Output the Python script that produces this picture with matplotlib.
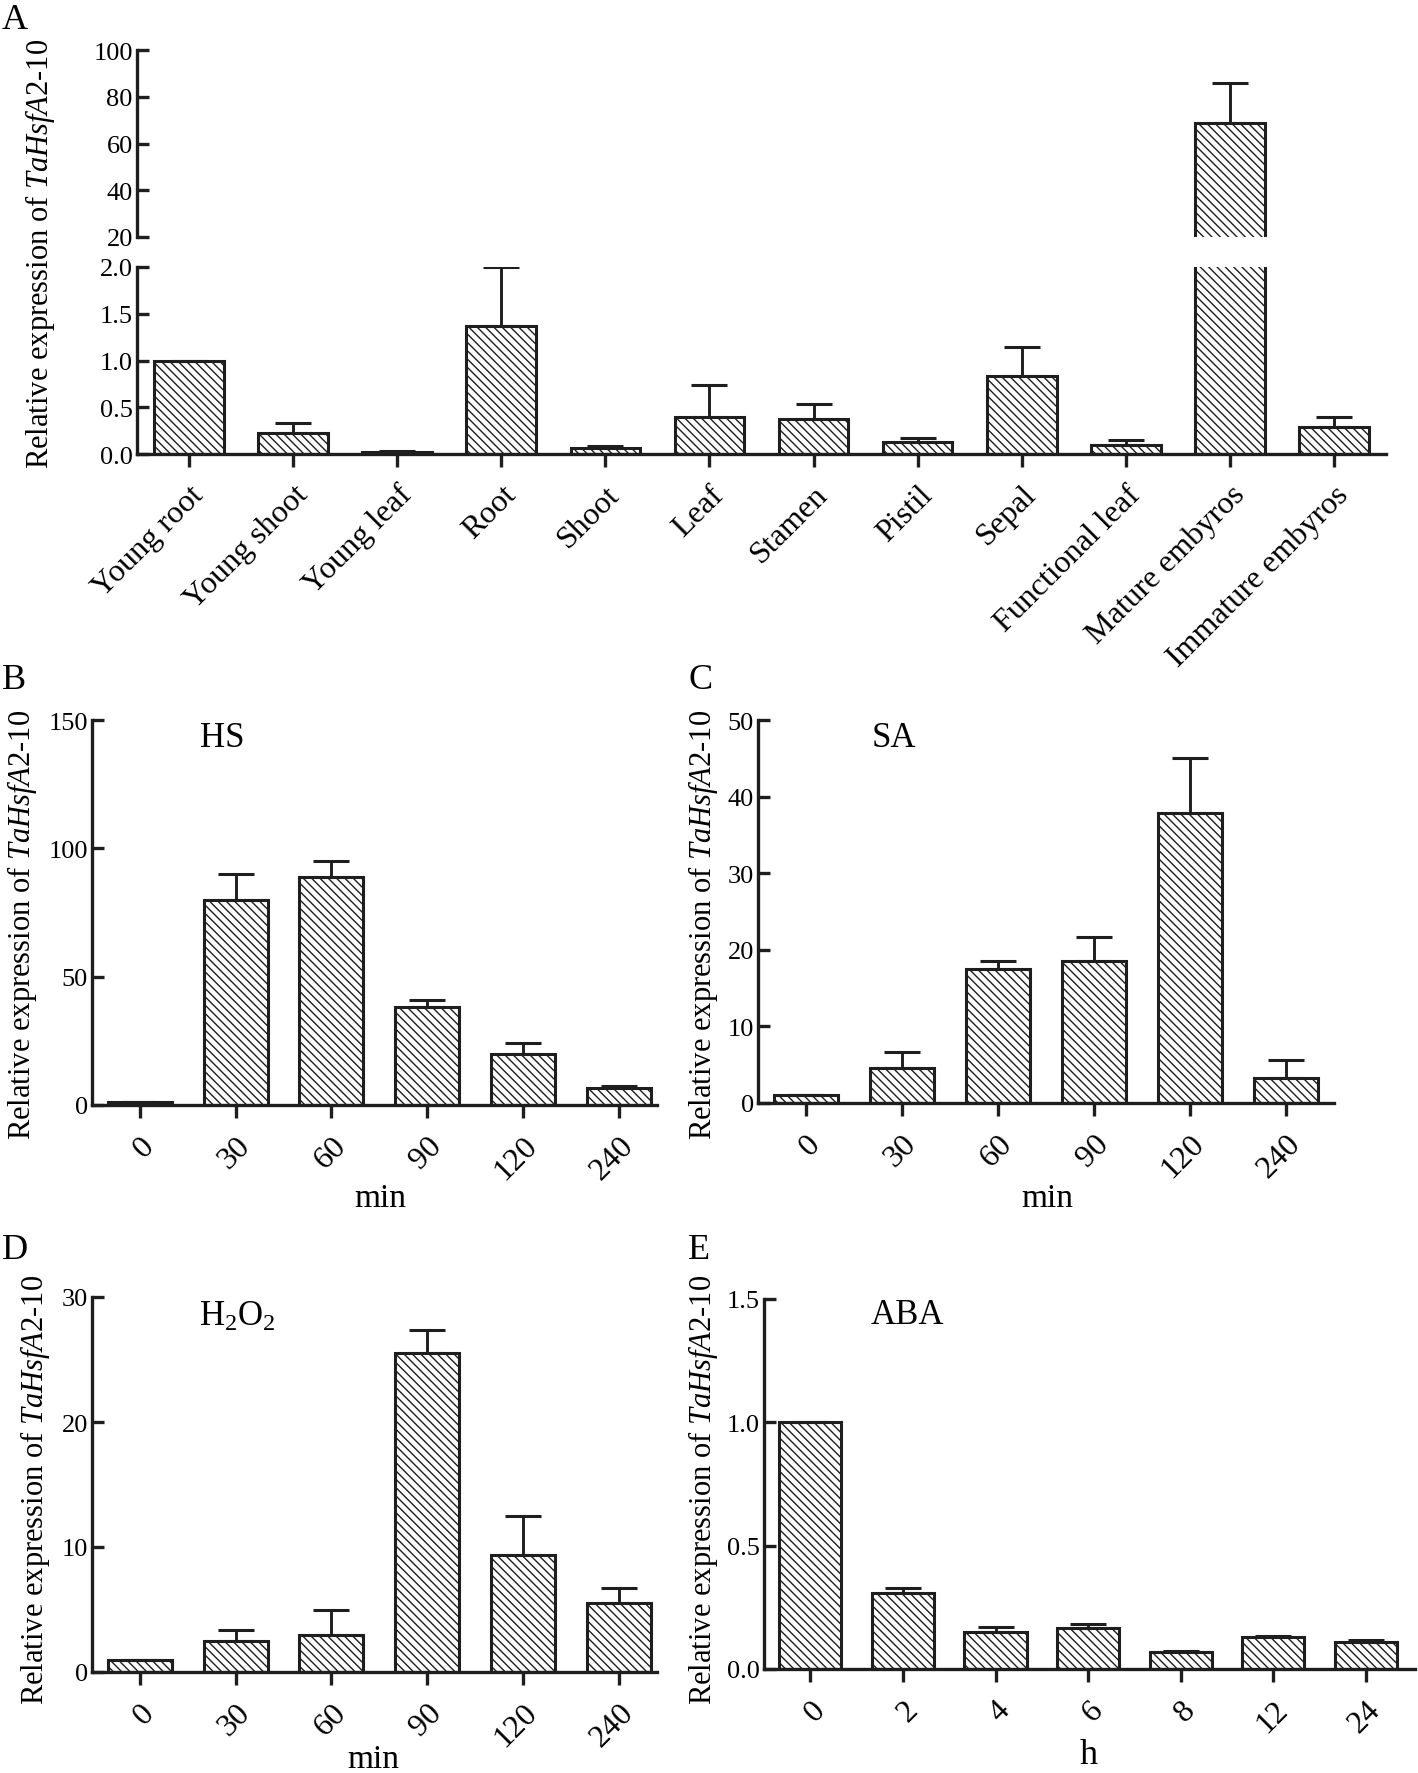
import matplotlib
matplotlib.use("Agg")
import matplotlib.pyplot as plt
import numpy as np

plt.rcParams["font.family"] = ["Liberation Serif", "DejaVu Serif"]
plt.rcParams["mathtext.fontset"] = "custom"
plt.rcParams["mathtext.rm"] = "Liberation Serif"
plt.rcParams["mathtext.it"] = "Liberation Serif:italic"
plt.rcParams["hatch.linewidth"] = 1.0

INK = "#1e1e1e"
plt.rcParams["hatch.color"] = INK

# %% datos
tejidos = ["Young root", "Young shoot", "Young leaf", "Root", "Shoot", "Leaf",
           "Stamen", "Pistil", "Sepal", "Functional leaf", "Mature embyros",
           "Immature embyros"]
tejido_media = [1.0, 0.22, 0.02, 1.37, 0.06, 0.40, 0.37, 0.13, 0.83, 0.10, 68.8, 0.29]
tejido_sd = [0.0, 0.11, 0.01, 0.63, 0.03, 0.34, 0.16, 0.04, 0.31, 0.05, 17.0, 0.11]

min_tiempos = ["0", "30", "60", "90", "120", "240"]
hs_media = [1.0, 80.0, 89.0, 38.0, 20.0, 6.5]
hs_sd = [0.0, 10.0, 6.0, 3.0, 4.0, 0.8]
sa_media = [1.0, 4.6, 17.5, 18.6, 37.8, 3.2]
sa_sd = [0.0, 2.0, 1.0, 3.1, 7.2, 2.4]
h2o2_media = [1.0, 2.5, 3.0, 25.5, 9.4, 5.5]
h2o2_sd = [0.0, 0.9, 2.0, 1.9, 3.1, 1.2]

h_tiempos = ["0", "2", "4", "6", "8", "12", "24"]
aba_media = [1.0, 0.31, 0.151, 0.165, 0.068, 0.13, 0.11]
aba_sd = [0.0, 0.02, 0.02, 0.017, 0.003, 0.003, 0.006]

YLABEL = r"Relative expression of $\mathit{TaHsfA2}$-$\mathit{10}$"
W, H = 1418, 1774


def caja(left, top, right, bottom):
    return [left / W, 1 - bottom / H, (right - left) / W, (bottom - top) / H]


def estilo(ax, xlabels=None):
    for s in ("top", "right"):
        ax.spines[s].set_visible(False)
    for s in ("left", "bottom"):
        ax.spines[s].set_linewidth(2.4)
        ax.spines[s].set_color(INK)
    ax.tick_params(axis="y", direction="in", length=8.5, width=2.4, color=INK,
                   labelsize=19, pad=3)
    ax.tick_params(axis="x", direction="out", length=9.5, width=2.4, color=INK,
                   labelsize=23, pad=9)
    if xlabels is not None:
        ax.set_xticks(np.arange(len(xlabels)))
        ax.set_xticklabels(xlabels, rotation=45, ha="right", va="top",
                           rotation_mode="anchor")


def barras(ax, media, sd):
    x = np.arange(len(media))
    ax.bar(x, media, width=0.67, color="white", edgecolor=INK,
           hatch="\\\\\\\\", linewidth=2.2, zorder=2)
    ax.errorbar(x, media, yerr=[np.zeros(len(sd)), sd], fmt="none",
                ecolor=INK, elinewidth=2.1, capsize=13, capthick=2.2, zorder=3)


fig = plt.figure(figsize=(W / 100, H / 100), dpi=100)

# %% Panel A (eje partido)
axA_sup = fig.add_axes(caja(137, 51, 1386, 238))
axA_inf = fig.add_axes(caja(137, 268, 1386, 455))
for ax in (axA_sup, axA_inf):
    barras(ax, tejido_media, tejido_sd)
    ax.set_xlim(-0.5, 11.5)
estilo(axA_inf, tejidos)
estilo(axA_sup)
axA_sup.spines["bottom"].set_visible(False)
axA_sup.set_xticks([])
axA_sup.set_ylim(20, 100)
axA_sup.set_yticks([20, 40, 60, 80, 100])
axA_inf.set_ylim(0, 2.0)
axA_inf.set_yticks([0, 0.5, 1.0, 1.5, 2.0])
axA_inf.set_yticklabels(["0.0", "0.5", "1.0", "1.5", "2.0"])
fig.text(40 / W, 1 - 254 / H, YLABEL, rotation=90, ha="center", va="center", fontsize=22)

# %% Paneles B-E
paneles = [
    (caja(92, 721, 657, 1106), hs_media, hs_sd, min_tiempos, (0, 150),
     [0, 50, 100, 150], ["0", "50", "100", "150"], (-0.5, 5.4), "HS", 0.192, 0.932),
    (caja(758, 721, 1334, 1104), sa_media, sa_sd, min_tiempos, (0, 50),
     [0, 10, 20, 30, 40, 50], ["0", "10", "20", "30", "40", "50"], (-0.5, 5.5), "SA", 0.198, 0.932),
    (caja(92, 1298, 657, 1673), h2o2_media, h2o2_sd, min_tiempos, (0, 30),
     [0, 10, 20, 30], ["0", "10", "20", "30"], (-0.5, 5.4), r"H$_2$O$_2$", 0.19, 0.925),
    (caja(764, 1300, 1415, 1670), aba_media, aba_sd, h_tiempos, (0, 1.5),
     [0, 0.5, 1.0, 1.5], ["0.0", "0.5", "1.0", "1.5"], (-0.5, 6.53), "ABA", 0.164, 0.935),
]
for pos, media, sd, etiquetas, ylim, yt, ytl, xlim, nombre, xn, yn in paneles:
    ax = fig.add_axes(pos)
    barras(ax, media, sd)
    estilo(ax, etiquetas)
    ax.set_xlim(*xlim)
    ax.set_ylim(*ylim)
    ax.set_yticks(yt)
    ax.set_yticklabels(ytl)
    ax.text(xn, yn, nombre, transform=ax.transAxes, ha="left", va="baseline", fontsize=25)

fig.text(22 / W, 1 - 925 / H, YLABEL, rotation=90, ha="center", va="center", fontsize=22)
fig.text(703 / W, 1 - 925 / H, YLABEL, rotation=90, ha="center", va="center", fontsize=22)
fig.text(35 / W, 1 - 1490 / H, YLABEL, rotation=90, ha="center", va="center", fontsize=22)
fig.text(703 / W, 1 - 1490 / H, YLABEL, rotation=90, ha="center", va="center", fontsize=22)

# etiquetas de eje x
fig.text(380 / W, 1 - 1207 / H, "min", ha="center", va="baseline", fontsize=24)
fig.text(1047 / W, 1 - 1207 / H, "min", ha="center", va="baseline", fontsize=24)
fig.text(373 / W, 1 - 1768 / H, "min", ha="center", va="baseline", fontsize=24)
fig.text(1089 / W, 1 - 1764 / H, "h", ha="center", va="baseline", fontsize=26)

# letras de panel
for letra, x, y in [("A", 2, 4), ("B", 2, 664), ("C", 688, 664), ("D", 2, 1234), ("E", 688, 1234)]:
    fig.text(x / W, 1 - y / H, letra, ha="left", va="top", fontsize=26)

fig.savefig("out.png", dpi=100)
plt.close()
